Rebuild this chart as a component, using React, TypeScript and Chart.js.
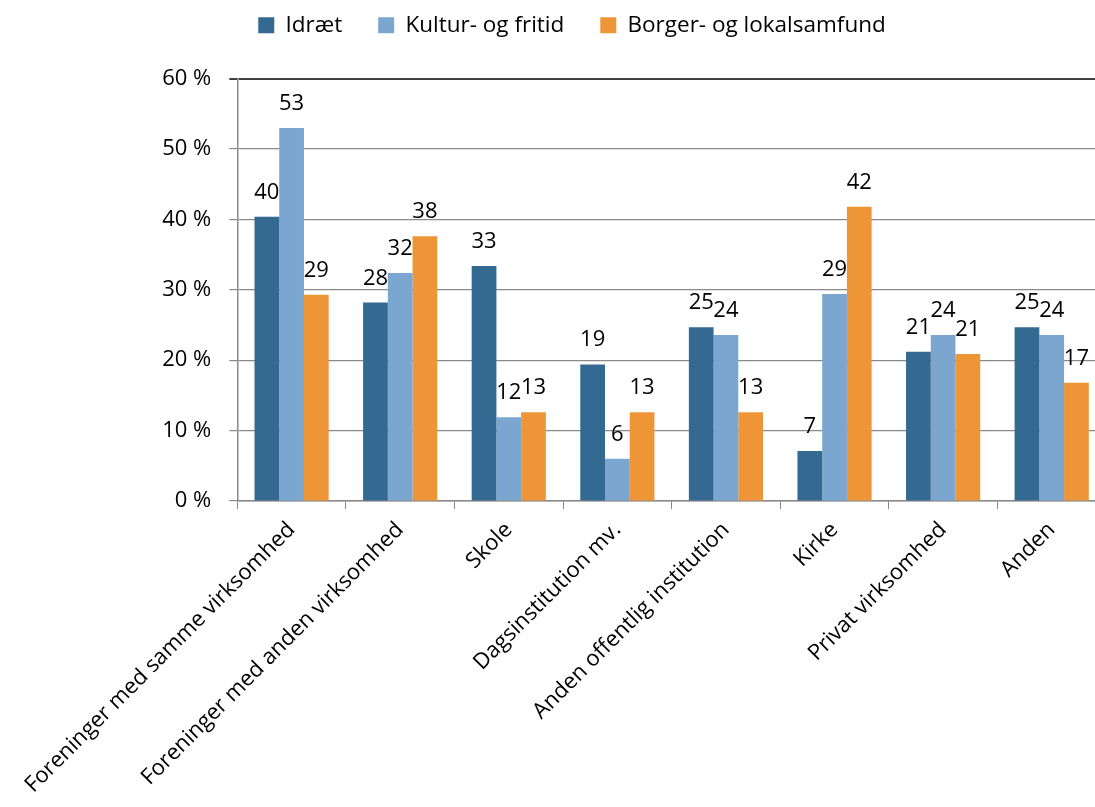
import React, { useEffect, useRef } from "react";
import { Chart, registerables } from "chart.js";

Chart.register(...registerables);

const categories = [
  "Foreninger med samme virksomhed",
  "Foreninger med anden virksomhed",
  "Skole",
  "Dagsinstitution mv.",
  "Anden offentlig institution",
  "Kirke",
  "Privat virksomhed",
  "Anden",
];
const seriesNames = ["Idræt", "Kultur- og fritid", "Borger- og lokalsamfund"];
const idraet = [40.4, 28.2, 33.4, 19.4, 24.7, 7.1, 21.2, 24.7];
const kultur = [53.0, 32.4, 11.9, 6.0, 23.6, 29.4, 23.6, 23.6];
const borger = [29.3, 37.6, 12.6, 12.6, 12.6, 41.8, 20.9, 16.8];
const yMin = 0;
const yMax = 60;
const yStep = 10;

const FONT = "'Open Sans', 'Liberation Sans', sans-serif";

const dataLabelPlugin = {
  id: "dataLabels",
  afterDatasetsDraw(chart: any) {
    const ctx = chart.ctx;
    ctx.save();
    ctx.font = `22px ${FONT}`;
    ctx.fillStyle = "#000000";
    ctx.textAlign = "center";
    ctx.textBaseline = "alphabetic";
    chart.data.datasets.forEach((ds: any, i: number) => {
      const meta = chart.getDatasetMeta(i);
      meta.data.forEach((bar: any, j: number) => {
        const v = ds.data[j];
        ctx.fillText(String(Math.round(v)), bar.x, bar.y - 18);
      });
    });
    ctx.restore();
  },
};

export default function App() {
  const canvasRef = useRef<HTMLCanvasElement | null>(null);

  useEffect(() => {
    if (!canvasRef.current) return;
    const chart = new Chart(canvasRef.current, {
      type: "bar",
      data: {
        labels: categories,
        datasets: [
          { label: seriesNames[0], data: idraet, backgroundColor: "#346a91" },
          { label: seriesNames[1], data: kultur, backgroundColor: "#7aa6cf" },
          { label: seriesNames[2], data: borger, backgroundColor: "#ee9537" },
        ],
      },
      options: {
        animation: false,
        responsive: true,
        maintainAspectRatio: false,
        datasets: {
          bar: { categoryPercentage: 0.683, barPercentage: 1.0, borderWidth: 0 },
        },
        layout: { padding: { top: -22, left: 38, right: 2, bottom: 0 } },
        plugins: {
          legend: {
            display: true,
            position: "top",
            weight: 3000,
            labels: {
              boxWidth: 16,
              boxHeight: 16,
              padding: 36,
              color: "#000000",
              font: { family: FONT, size: 22.5 },
            },
          },
          title: {
            display: true,
            text: " ",
            weight: 2000,
            font: { size: 1 },
            padding: { top: 31, bottom: 0 },
          },
          tooltip: { enabled: false },
        },
        scales: {
          x: {
            offset: true,
            grid: {
              display: true,
              offset: true,
              drawOnChartArea: false,
              drawTicks: true,
              tickLength: 8,
              color: "#8a8a8a",
            },
            border: { display: true, color: "#8a8a8a", width: 1.5 },
            ticks: {
              minRotation: 45,
              maxRotation: 45,
              autoSkip: false,
              color: "#000000",
              font: { family: FONT, size: 22 },
              padding: 8,
            },
            afterFit: (s: any) => {
              s.height = 306;
            },
          },
          y: {
            min: yMin,
            max: yMax,
            ticks: {
              stepSize: yStep,
              color: "#000000",
              font: { family: FONT, size: 22 },
              padding: 18,
              callback: (v: any) => `${v} %`,
            },
            grid: {
              color: (c: any) => (c.tick && c.tick.value === yMax ? "#404040" : "#8a8a8a"),
              lineWidth: (c: any) => (c.tick && c.tick.value === yMax ? 2 : 1.2),
              tickLength: 8,
            },
            border: { display: true, color: "#8a8a8a", width: 1.5 },
            afterFit: (s: any) => {
              s.width = 199.3;
            },
          },
        },
      },
      plugins: [dataLabelPlugin],
    });
    return () => chart.destroy();
  }, []);

  return (
    <div
      style={{
        position: "absolute",
        left: 0,
        top: 0,
        width: 1095,
        height: 807,
        overflow: "hidden",
        background: "#ffffff",
      }}
    >
      <div style={{ position: "relative", width: 1108, height: 807 }}>
        <canvas ref={canvasRef} />
      </div>
    </div>
  );
}
